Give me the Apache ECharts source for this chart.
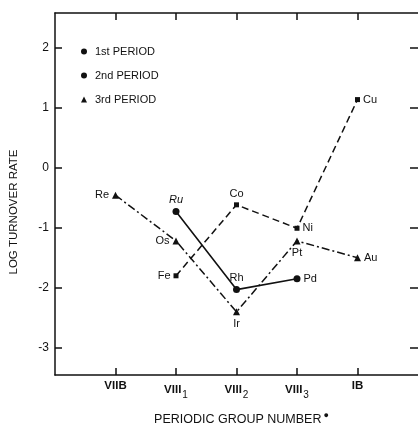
<!DOCTYPE html>
<html><head><meta charset="utf-8">
<script src="https://cdn.jsdelivr.net/npm/echarts@6/dist/echarts.min.js"></script>
<style>html,body{margin:0;padding:0;background:#fff}#c{width:418px;height:431px}</style>
</head><body><div id="c"></div>
<script>
// Data
const groupLabels = ['VIIB', 'VIII|1', 'VIII|2', 'VIII|3', 'IB'];
const yTicks = [-3, -2, -1, 0, 1, 2];

const period1Names = ['Fe', 'Co', 'Ni', 'Cu'];
const period1X = [2, 3, 4, 5];
const period1Y = [-1.80, -0.62, -1.01, 1.13];

const period2Names = ['Ru', 'Rh', 'Pd'];
const period2X = [2, 3, 4];
const period2Y = [-0.73, -2.03, -1.85];

const period3Names = ['Re', 'Os', 'Ir', 'Pt', 'Au'];
const period3X = [1, 2, 3, 4, 5];
const period3Y = [-0.46, -1.22, -2.40, -1.22, -1.50];

const seriesNames = ['1st PERIOD', '2nd PERIOD', '3rd PERIOD'];

const labelPos = {
  Fe: 'left', Co: 'top', Ni: 'right', Cu: 'right',
  Ru: 'top', Rh: 'top', Pd: 'right',
  Re: 'left', Os: 'left', Ir: 'bottom', Pt: 'bottom', Au: 'right'
};
const FONT = '"Liberation Sans Narrow", "Liberation Sans", Arial, sans-serif';

function build(names, xs, ys) {
  return names.map((n, i) => ({
    name: n, value: [xs[i], ys[i]],
    label: { position: labelPos[n], fontStyle: n === 'Ru' ? 'italic' : 'normal' }
  }));
}

const chart = echarts.init(document.getElementById('c'), null, { renderer: 'canvas' });
const axisLine = { show: true, onZero: false, lineStyle: { color: '#111', width: 1.5 } };
const tickStyle = { color: '#111', width: 1.5 };
const labelCommon = {
  show: true, formatter: '{b}', color: '#111', fontSize: 11, fontFamily: FONT, distance: 3
};

chart.setOption({
  animation: false,
  backgroundColor: '#fff',
  grid: { left: 55, right: -6, top: 13, bottom: 46 },
  legend: {
    orient: 'vertical', left: 76, top: 41,
    itemWidth: 6, itemHeight: 6, itemGap: 13,
    textStyle: { fontSize: 11, color: '#111', fontFamily: FONT, padding: [0, 0, 0, 3] },
    data: [
      { name: seriesNames[0], icon: 'circle' },
      { name: seriesNames[1], icon: 'circle' },
      { name: seriesNames[2], icon: 'triangle' }
    ]
  },
  xAxis: [{
    type: 'value', min: 0, max: 6, interval: 1, position: 'bottom',
    axisLine: axisLine,
    axisTick: { show: true, inside: true, length: 7, customValues: [1, 2, 3, 4, 5], lineStyle: tickStyle },
    axisLabel: {
      show: true, customValues: [1, 2, 3, 4, 5], margin: 5,
      fontSize: 11, color: '#111', fontFamily: FONT,
      formatter: v => {
        const s = groupLabels[Math.round(v) - 1] || '';
        const p = s.split('|');
        return p.length > 1 ? '{a|' + p[0] + '}{s|' + p[1] + '}' : '{a|' + s + '}';
      },
      rich: {
        a: { fontSize: 11.5, color: '#111', fontFamily: FONT, fontWeight: 'bold' },
        s: { fontSize: 10, color: '#111', fontFamily: FONT, padding: [10, 0, 0, 1] }
      }
    },
    splitLine: { show: false },
    name: 'PERIODIC GROUP NUMBER{d|●}', nameLocation: 'middle', nameGap: 36,
    nameTextStyle: {
      fontSize: 12.5, color: '#111', fontFamily: '"Liberation Sans", Arial, sans-serif',
      padding: [0, 0, 0, 10],
      rich: { d: { fontSize: 9, color: '#111', padding: [0, 0, 8, 2] } }
    }
  }, {
    type: 'value', min: 0, max: 6, interval: 1, position: 'top',
    axisLine: axisLine,
    axisTick: { show: true, inside: true, length: 7, customValues: [1, 2, 3, 4, 5], lineStyle: tickStyle },
    axisLabel: { show: false }, splitLine: { show: false }
  }],
  yAxis: [{
    type: 'value', min: -3.45, max: 2.57, position: 'left',
    axisLine: axisLine,
    axisTick: { show: true, inside: true, length: 7, customValues: yTicks, lineStyle: tickStyle },
    axisLabel: { show: true, customValues: yTicks, margin: 6, fontSize: 12, color: '#111', fontFamily: FONT },
    splitLine: { show: false },
    name: 'LOG TURNOVER RATE', nameLocation: 'middle', nameGap: 35,
    nameTextStyle: { fontSize: 11.5, color: '#111', fontFamily: '"Liberation Sans", Arial, sans-serif', padding: [0, 36, 0, 0] }
  }, {
    type: 'value', min: -3.45, max: 2.57, position: 'right',
    axisLine: { show: false, onZero: false },
    axisTick: { show: true, inside: true, length: 8, customValues: yTicks, lineStyle: tickStyle },
    axisLabel: { show: false }, splitLine: { show: false }
  }],
  series: [{
    name: seriesNames[0], type: 'line',
    data: build(period1Names, period1X, period1Y),
    symbol: 'rect', symbolSize: 5,
    itemStyle: { color: '#111' },
    lineStyle: { color: '#111', width: 1.5, type: [7, 4] },
    label: labelCommon
  }, {
    name: seriesNames[1], type: 'line',
    data: build(period2Names, period2X, period2Y),
    symbol: 'circle', symbolSize: 7,
    itemStyle: { color: '#111' },
    lineStyle: { color: '#111', width: 1.6 },
    label: labelCommon
  }, {
    name: seriesNames[2], type: 'line',
    data: build(period3Names, period3X, period3Y),
    symbol: 'triangle', symbolSize: 7,
    itemStyle: { color: '#111' },
    lineStyle: { color: '#111', width: 1.5, type: [8, 3, 2, 3] },
    label: labelCommon
  }]
});
</script>
</body></html>
